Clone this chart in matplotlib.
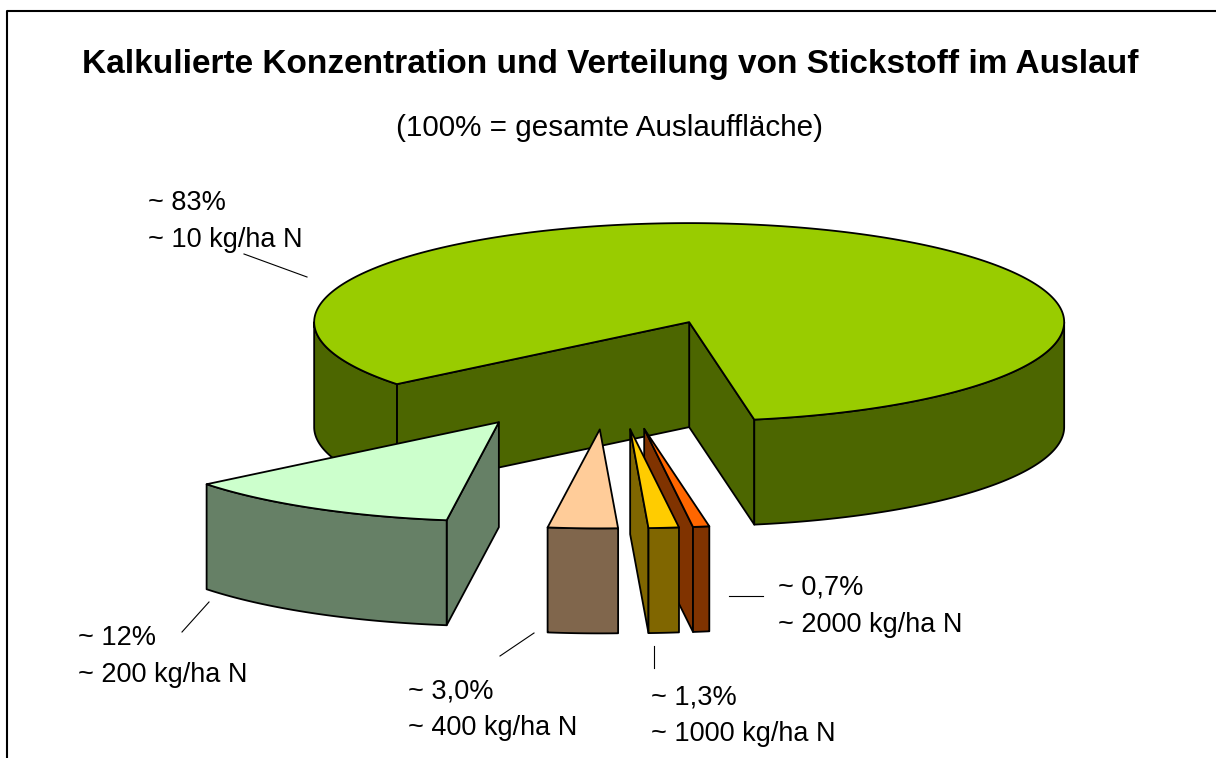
import numpy as np
import matplotlib.pyplot as plt
from matplotlib.patches import Polygon

# shares of the run area (percent) and calculated N load
shares = [83, 12, 3.0, 1.3, 0.7]
pct_labels = ['~ 83%', '~ 12%', '~ 3,0%', '~ 1,3%', '~ 0,7%']
n_labels = ['~ 10 kg/ha N', '~ 200 kg/ha N', '~ 400 kg/ha N', '~ 1000 kg/ha N', '~ 2000 kg/ha N']
top_colors = ['#99CC00', '#CCFFCC', '#FFCC99', '#FFCC00', '#FF6600']
side_colors = ['#4C6600', '#668066', '#80664C', '#806600', '#803300']

title = 'Kalkulierte Konzentration und Verteilung von Stickstoff im Auslauf'
subtitle = '(100% = gesamte Auslauffläche)'

# 3d pie layout (pixels)
cx, cy = 610, 374
rx, ry = 375, 99
depth = 105
explode_x, explode_y = 0.6, 0.56
start = 280

plt.rcParams['font.family'] = ['Liberation Sans', 'DejaVu Sans']

fig = plt.figure(figsize=(12.16, 7.58), dpi=100)
ax = fig.add_axes([0, 0, 1, 1])
ax.set_xlim(0, 1216)
ax.set_ylim(758, 0)
ax.axis('off')


def rim(ox, oy, t, dz=0):
    t = np.radians(t)
    return np.column_stack([ox + rx*np.cos(t), oy - ry*np.sin(t) + dz])


# angle ranges of the slices (counter clockwise from start)
bounds = start + 360*np.concatenate([[0], np.cumsum(shares)]) / 100.0
slices = []
for i in range(len(shares)):
    t0, t1 = bounds[i], bounds[i+1]
    mid = (t0 + t1) / 2
    ox = cx + explode_x*rx*np.cos(np.radians(mid))
    oy = cy - explode_y*ry*np.sin(np.radians(mid))
    slices.append((np.sin(np.radians(mid)), i, t0, t1, ox, oy))

# back slices first
slices.sort(key=lambda s: -s[0])

lw = 1.3
for _, i, t0, t1, ox, oy in slices:
    top_c, side_c = top_colors[i], side_colors[i]
    # radial walls
    for t, nrm in [(t0, t0 - 90), (t1, t1 + 90)]:
        if np.sin(np.radians(nrm)) < 0:
            p = rim(ox, oy, np.array([t]))[0]
            poly = [(ox, oy), tuple(p), (p[0], p[1] + depth), (ox, oy + depth)]
            ax.add_patch(Polygon(poly, closed=True, fc=side_c, ec='black', lw=lw, joinstyle='round'))
    # outer wall, front part only
    for k in range(-1, 3):
        a0, a1 = max(t0, 180 + 360*k), min(t1, 360 + 360*k)
        if a1 > a0:
            tt = np.linspace(a0, a1, 120)
            up = rim(ox, oy, tt)
            dn = rim(ox, oy, tt[::-1], depth)
            ax.add_patch(Polygon(np.vstack([up, dn]), closed=True, fc=side_c, ec='black', lw=lw, joinstyle='round'))
    # top face
    tt = np.linspace(t0, t1, max(int((t1 - t0)*2), 8))
    top = np.vstack([[ox, oy], rim(ox, oy, tt)])
    ax.add_patch(Polygon(top, closed=True, fc=top_c, ec='black', lw=lw, joinstyle='round'))

# labels with leader lines
label_pos = [(148, 203), (78, 638), (408, 691), (651, 697), (778, 588)]
leaders = [((244, 254), (307, 277)), ((182, 632), (209, 602)), ((500, 656), (534, 633)),
           ((654, 646), (654, 668)), ((729, 596), (763, 596))]
for i in range(len(shares)):
    x, y = label_pos[i]
    ax.text(x, y, pct_labels[i], fontsize=19.5, ha='left', va='center')
    ax.text(x, y + 37, n_labels[i], fontsize=19.5, ha='left', va='center')
    (x0, y0), (x1, y1) = leaders[i]
    ax.plot([x0, x1], [y0, y1], color='black', lw=0.8)

ax.text(610, 65, title, fontsize=24, fontweight='bold', ha='center', va='center')
ax.text(609, 128, subtitle, fontsize=21.3, ha='center', va='center')

# chart frame (only left and top edges inside the picture)
ax.plot([7, 7, 1230], [770, 11, 11], color='black', lw=1.5, solid_capstyle='projecting')

fig.savefig('out.png', dpi=100)
